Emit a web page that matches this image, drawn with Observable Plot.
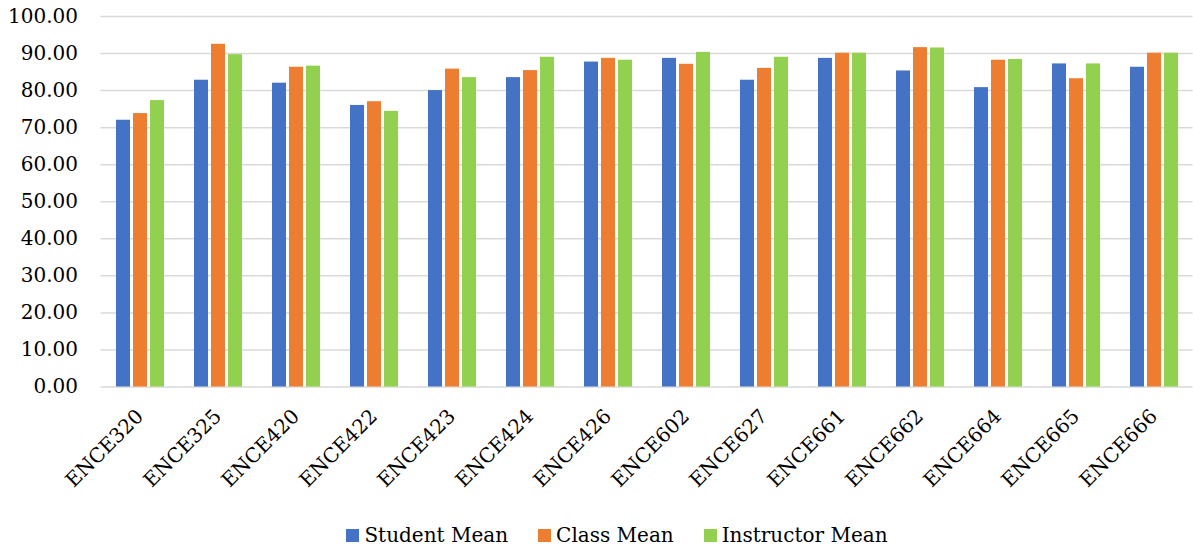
<!DOCTYPE html>
<html>
<head>
<meta charset="utf-8">
<script src="https://cdn.jsdelivr.net/npm/d3@7"></script>
<script src="https://cdn.jsdelivr.net/npm/@observablehq/plot@0.6"></script>
<style>
  html, body { margin: 0; padding: 0; background: #fff; }
  #chart { width: 1193px; }
  .legend { display: flex; justify-content: center; align-items: center; font-family: "DejaVu Serif", serif; font-size: 20px; color: #000; height: 46px; padding-left: 41px; }
  .legend .item { display: flex; align-items: center; margin: 0 15px; }
  .legend .sw { width: 13px; height: 13px; margin-right: 5px; }
</style>
</head>
<body>
<div id="chart"></div>
<script>
const courses = ["ENCE320","ENCE325","ENCE420","ENCE422","ENCE423","ENCE424","ENCE426","ENCE602","ENCE627","ENCE661","ENCE662","ENCE664","ENCE665","ENCE666"];
const seriesNames = ["Student Mean","Class Mean","Instructor Mean"];
const studentMean    = [72.0, 82.8, 82.0, 76.0, 80.0, 83.5, 87.7, 88.7, 82.8, 88.7, 85.3, 80.8, 87.2, 86.3];
const classMean      = [73.8, 92.5, 86.3, 77.0, 85.8, 85.4, 88.7, 87.1, 86.0, 90.1, 91.6, 88.2, 83.2, 90.1];
const instructorMean = [77.3, 89.7, 86.6, 74.4, 83.5, 89.0, 88.2, 90.3, 89.0, 90.1, 91.5, 88.4, 87.2, 90.1];
const seriesColors = ["#4472C4","#ED7D31","#92D050"];
const yTicks = [0,10,20,30,40,50,60,70,80,90,100];

const seriesValues = [studentMean, classMean, instructorMean];
const data = courses.flatMap((c, i) => seriesNames.map((s, j) => ({course: c, series: s, value: seriesValues[j][i]})));

const chart = Plot.plot({
  width: 1193,
  height: 512,
  marginLeft: 100,
  marginRight: 0,
  marginTop: 16,
  marginBottom: 125.5,
  style: {fontFamily: "DejaVu Serif", fontSize: "20px", color: "#000", background: "#fff", overflow: "visible"},
  fx: {domain: courses, paddingInner: 0.37, paddingOuter: 0.185, label: null, tickRotate: -45, tickSize: 0, tickPadding: 26},
  x: {domain: seriesNames, paddingInner: 0.2, paddingOuter: 0, axis: null},
  y: {domain: [0, 100], ticks: yTicks, tickFormat: d3.format(".2f"), label: null, tickSize: 0, tickPadding: 37.5},
  color: {domain: seriesNames, range: seriesColors},
  marks: [
    Plot.gridY(yTicks, {stroke: "#D9D9D9", strokeOpacity: 1, strokeWidth: 1.5, insetLeft: -14.5, insetRight: -14.5}),
    Plot.barY(data, {fx: "course", x: "series", y: "value", fill: "series"})
  ]
});
document.getElementById("chart").appendChild(chart);

const legend = document.createElement("div");
legend.className = "legend";
seriesNames.forEach((s, i) => {
  const item = document.createElement("div");
  item.className = "item";
  const sw = document.createElement("span");
  sw.className = "sw";
  sw.style.background = seriesColors[i];
  const t = document.createElement("span");
  t.textContent = s;
  item.appendChild(sw);
  item.appendChild(t);
  legend.appendChild(item);
});
document.getElementById("chart").appendChild(legend);
</script>
</body>
</html>
